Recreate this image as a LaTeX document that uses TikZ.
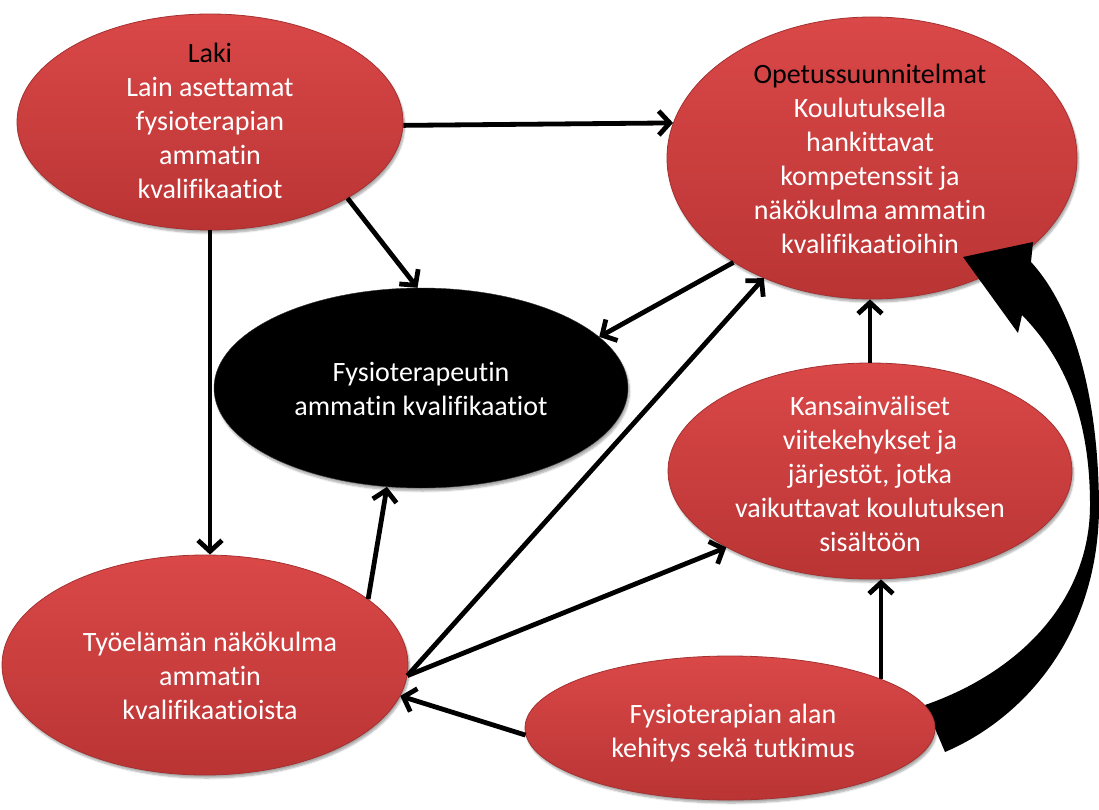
\documentclass[tikz,border=0pt]{standalone}
\usepackage{fontspec}
\setmainfont[Ligatures=NoCommon]{Carlito}
\usetikzlibrary{arrows.meta,shapes.geometric,shadows.blur}
\begin{document}
\begin{tikzpicture}[x=1pt,y=-1pt,
  redell/.style={ellipse, inner sep=0pt,
    top color={rgb,255:red,218;green,72;blue,72},
    bottom color={rgb,255:red,186;green,52;blue,52},
    draw={rgb,255:red,165;green,48;blue,48}, line width=0.8pt,
    blur shadow={shadow xshift=1.5pt, shadow yshift=-3pt, shadow blur steps=6, shadow opacity=35}},
  blackell/.style={ellipse, inner sep=0pt, fill=black, draw=black!80,
    blur shadow={shadow xshift=1.5pt, shadow yshift=-3pt, shadow blur steps=6, shadow opacity=35}},
  txt/.style={align=center, font=\fontsize{28}{34}\selectfont, text=white, inner sep=0pt},
  conn/.style={line width=4.8pt, -{Straight Barb[length=11pt,width=24pt,line width=4.8pt]}},
  bigarrow/.style={fill=black}
]
\useasboundingbox (0,0) rectangle (1099,810);

\node[redell, minimum width=386pt, minimum height=216pt] (laki) at (210,122) {};
\node[redell, minimum width=410pt, minimum height=282pt] (opetus) at (872,158) {};
\node[blackell, minimum width=414pt, minimum height=200pt] (fysq) at (421,388) {};
\node[redell, minimum width=404pt, minimum height=216pt] (kans) at (870,471) {};
\node[redell, minimum width=406pt, minimum height=220pt] (tyo) at (205,665) {};

\fill[bigarrow] (963,257) -- (1033,242) -- (1031,262)
  .. controls (1075,310) and (1099,400) .. (1099,510)
  .. controls (1097,640) and (1020,720) .. (945,752)
  -- (925,705)
  .. controls (1020,672) and (1090,600) .. (1090,505)
  .. controls (1090,420) and (1066,360) .. (1022,315)
  -- (1018,333) -- cycle;

\node[redell, minimum width=410pt, minimum height=144pt] (kehitys) at (730,728) {};

\node[txt] (lakit) at (210,121) {\textcolor{black}{Laki}\\Lain asettamat\\fysioterapian\\ammatin\\kvalifikaatiot};
\node[txt] (opetust) at (870,159) {\textcolor{black}{Opetussuunnitelmat}\\Koulutuksella\\hankittavat\\kompetenssit ja\\näkökulma ammatin\\kvalifikaatioihin};
\node[txt] (fysqt) at (421,389) {Fysioterapeutin\\ammatin kvalifikaatiot};
\node[txt] (kanst) at (870,474) {Kansainväliset\\viitekehykset ja\\järjestöt, jotka\\vaikuttavat koulutuksen\\sisältöön};
\node[txt] (tyot) at (210,676) {Työelämän näkökulma\\ammatin\\kvalifikaatioista};
\node[txt] (kehityst) at (733,733) {Fysioterapian alan\\kehitys sekä tutkimus};

\draw[conn] (laki.-1) -- (opetus.170.6);
\draw[conn] (laki.-29.7) -- (fysq.92);
\draw[conn] (laki.south) -- (laki.south |- tyo.north);
\draw[conn] (opetus.-143.9) -- (fysq.16);
\draw[conn] (tyo.22.5) -- (fysq.-109);
\draw[conn] (tyo.-3) -- (opetus.-132.6);
\draw[conn] (tyo.-3) -- (kans.-152.8);
\draw[conn] (kehitys.182) -- (tyo.-9.9);
\draw[conn] (kehitys.18.7) -- (kehitys.18.7 |- kans.south);
\draw[conn] (kans.north) -- (kans.north |- opetus.south);
\end{tikzpicture}
\end{document}
